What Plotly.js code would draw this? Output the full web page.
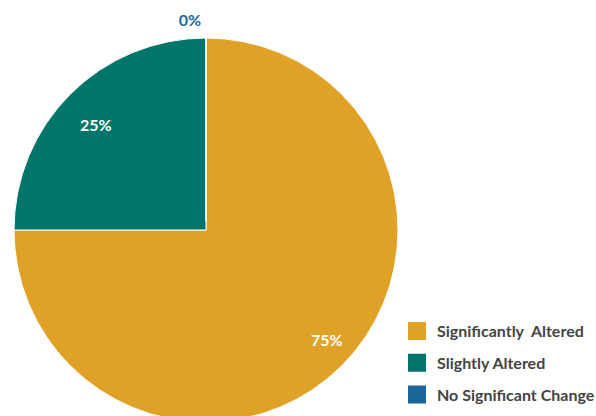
<!DOCTYPE html>
<html><head><meta charset="utf-8">
<script src="https://cdn.plot.ly/plotly-3.0.1.min.js"></script>
<style>html,body{margin:0;padding:0;overflow:hidden;background:#fff}#chart{width:640px;height:500px}</style>
</head><body><div id="chart"></div>
<script>
const categories = ["Significantly  Altered", "Slightly Altered", "No Significant Change"];
const values = [75, 25, 0];
const colors = ["#E0A226", "#00766B", "#1B6699"];

const W = 640, H = 500;
const cx = 206, cy = 230, r = 192;
const mainPull = [0, 0, 0.047];
const R1 = r * (1 + Math.max.apply(null, mainPull));
// inner transparent pie used only to place the in-slice percentage labels further out
const r2 = 130, labelPull = [0.754, 0.15, 0];
const R2 = r2 * (1 + Math.max.apply(null, labelPull));

const pie = {
  type: 'pie',
  labels: categories,
  values: values,
  sort: false,
  direction: 'clockwise',
  rotation: 0,
  pull: mainPull,
  marker: {colors: colors, line: {color: '#ffffff', width: 1}},
  textinfo: 'percent',
  textposition: ['none', 'none', 'outside'],
  outsidetextfont: {family: 'Lato', size: 16, color: colors[2], weight: 'bold'},
  showlegend: false,
  hoverinfo: 'none',
  domain: {x: [(cx - R1) / W, (cx + R1) / W], y: [(H - cy - R1) / H, (H - cy + R1) / H]}
};

const labelPie = {
  type: 'pie',
  labels: categories,
  values: values,
  sort: false,
  direction: 'clockwise',
  rotation: 0,
  pull: labelPull,
  marker: {colors: ['rgba(0,0,0,0)', 'rgba(0,0,0,0)', 'rgba(0,0,0,0)'], line: {width: 0}},
  textinfo: 'percent',
  textposition: ['inside', 'outside', 'none'],
  insidetextorientation: 'horizontal',
  insidetextfont: {family: 'Lato', size: 16, color: '#ffffff', weight: 'bold'},
  outsidetextfont: {family: 'Lato', size: 16, color: '#ffffff', weight: 'bold'},
  showlegend: false,
  hoverinfo: 'none',
  domain: {x: [(cx - R2) / W, (cx + R2) / W], y: [(H - cy - R2) / H, (H - cy + R2) / H]}
};

const legendTraces = categories.map((c, i) => ({
  type: 'scatter', x: [null], y: [null], name: c, mode: 'markers',
  legendgroup: 'g' + i,
  marker: {symbol: 'square', size: 16, color: colors[i], line: {color: colors[i], width: 2}},
  hoverinfo: 'none'
}));

Plotly.newPlot('chart', [pie, labelPie].concat(legendTraces), {
  width: W, height: H,
  margin: {l: 0, r: 0, t: 0, b: 0},
  paper_bgcolor: '#fff', plot_bgcolor: '#fff',
  font: {family: 'Lato', color: '#444'},
  xaxis: {visible: false}, yaxis: {visible: false},
  showlegend: true,
  legend: {
    x: 397 / W, xanchor: 'left', y: 1 - 314 / H, yanchor: 'top',
    traceorder: 'grouped', tracegroupgap: 8,
    font: {family: 'Lato', size: 16, color: '#444', weight: 'bold'},
    bgcolor: 'rgba(0,0,0,0)'
  }
}, {displayModeBar: false, staticPlot: true});
</script></body></html>
